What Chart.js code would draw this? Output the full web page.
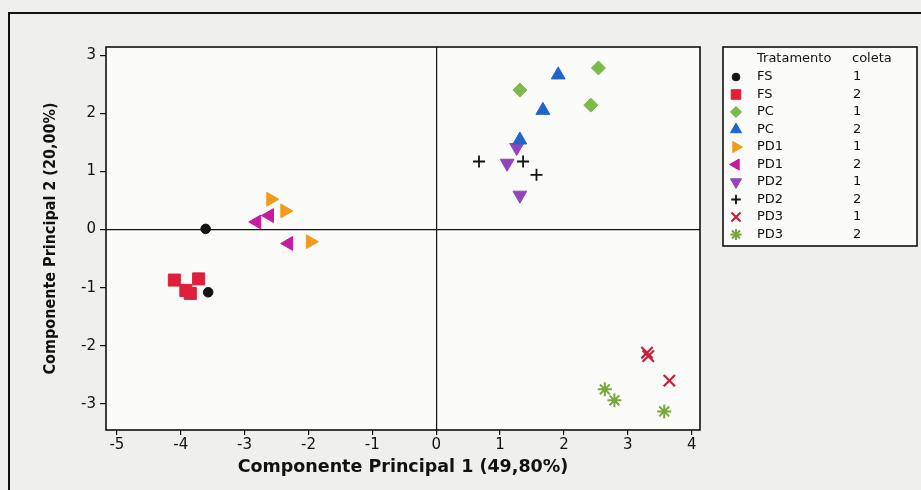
<!DOCTYPE html>
<html>
<head>
<meta charset="utf-8">
<script src="https://cdn.jsdelivr.net/npm/chart.js@4.4.1/dist/chart.umd.min.js"></script>
<style>
  body { margin: 0; background: #efefeb; }
  canvas { display: block; }
</style>
</head>
<body>
<canvas id="pcaChart" width="921" height="490"></canvas>
<script>
// scores: [componente 1, componente 2]
const fs1 = [[-3.61, 0.01], [-3.57, -1.08]];
const fs2 = [[-4.10, -0.87], [-3.72, -0.85], [-3.92, -1.05], [-3.85, -1.10]];
const pc1 = [[2.54, 2.78], [1.31, 2.40], [2.42, 2.14]];
const pc2 = [[1.91, 2.66], [1.67, 2.05], [1.31, 1.54]];
const pd1c1 = [[-2.59, 0.52], [-2.37, 0.32], [-1.97, -0.21]];
const pd1c2 = [[-2.61, 0.24], [-2.81, 0.13], [-2.31, -0.24]];
const pd2c1 = [[1.26, 1.41], [1.11, 1.14], [1.31, 0.59]];
const pd2c2 = [[0.67, 1.17], [1.36, 1.17], [1.57, 0.94]];
const pd3c1 = [[3.30, -2.12], [3.32, -2.18], [3.65, -2.60]];
const pd3c2 = [[2.64, -2.75], [2.79, -2.94], [3.57, -3.13]];

const tratamentos = ['FS', 'FS', 'PC', 'PC', 'PD1', 'PD1', 'PD2', 'PD2', 'PD3', 'PD3'];
const coletas = ['1', '2', '1', '2', '1', '2', '1', '2', '1', '2'];
const xTicks = [-5, -4, -3, -2, -1, 0, 1, 2, 3, 4];
const yTicks = [-3, -2, -1, 0, 1, 2, 3];

const seriesData = [fs1, fs2, pc1, pc2, pd1c1, pd1c2, pd2c1, pd2c2, pd3c1, pd3c2];
const markers = [
  { color: '#141414', style: 'circle', rotation: 0, radius: 4.8, width: 1 },
  { color: '#df1f3c', style: 'rect', rotation: 0, radius: 8.5, width: 1 },
  { color: '#7cba4c', style: 'rectRot', rotation: 0, radius: 7, width: 1 },
  { color: '#1f66c9', style: 'triangle', rotation: 0, radius: 8, width: 1 },
  { color: '#f39a1c', style: 'triangle', rotation: 90, radius: 8, width: 1 },
  { color: '#c81a9e', style: 'triangle', rotation: 270, radius: 8, width: 1 },
  { color: '#9444ba', style: 'triangle', rotation: 180, radius: 8, width: 1 },
  { color: '#141414', style: 'cross', rotation: 0, radius: 6, width: 1.8 },
  { color: '#c8203c', style: 'crossRot', rotation: 0, radius: 8, width: 2.2 },
  { color: '#78a83a', style: 'star', rotation: 0, radius: 7, width: 2 },
];

const datasets = seriesData.map((pts, i) => ({
  label: tratamentos[i] + ' ' + coletas[i],
  data: pts.map(p => ({ x: p[0], y: p[1] })),
  pointStyle: markers[i].style,
  rotation: markers[i].rotation,
  pointRadius: markers[i].radius,
  pointHoverRadius: markers[i].radius,
  borderWidth: markers[i].width,
  backgroundColor: markers[i].color,
  borderColor: markers[i].color,
}));

const frame = {
  id: 'frame',
  beforeDraw(chart) {
    const { ctx, chartArea: a } = chart;
    ctx.save();
    ctx.fillStyle = '#efefeb';
    ctx.fillRect(0, 0, chart.width, chart.height);
    ctx.strokeStyle = '#111';
    ctx.lineWidth = 2;
    ctx.beginPath();
    ctx.moveTo(9, chart.height);
    ctx.lineTo(9, 13);
    ctx.lineTo(chart.width, 13);
    ctx.stroke();
    ctx.fillStyle = '#fbfbfa';
    ctx.fillRect(a.left, a.top, a.right - a.left, a.bottom - a.top);
    ctx.restore();
  },
  afterDatasetsDraw(chart) {
    const { ctx, chartArea: a } = chart;
    ctx.save();
    ctx.strokeStyle = '#111';
    ctx.lineWidth = 1.6;
    ctx.strokeRect(a.left, a.top, a.right - a.left, a.bottom - a.top);
    ctx.restore();
  },
  afterDraw(chart) {
    const { ctx } = chart;
    const box = { left: 723, top: 47, right: 917, bottom: 246 };
    ctx.save();
    ctx.fillStyle = '#fbfbfa';
    ctx.fillRect(box.left, box.top, box.right - box.left, box.bottom - box.top);
    ctx.strokeStyle = '#111';
    ctx.lineWidth = 1.6;
    ctx.strokeRect(box.left, box.top, box.right - box.left, box.bottom - box.top);
    ctx.font = '13px "DejaVu Sans"';
    ctx.textBaseline = 'middle';
    ctx.fillStyle = '#111';
    ctx.fillText('Tratamento', 757, 59);
    ctx.fillText('coleta', 852, 59);
    chart.data.datasets.forEach((ds, i) => {
      const y = 77 + i * 17.5;
      ctx.fillStyle = ds.backgroundColor;
      ctx.strokeStyle = ds.borderColor;
      ctx.lineWidth = ds.borderWidth;
      Chart.helpers.drawPoint(ctx, {
        pointStyle: ds.pointStyle,
        rotation: ds.rotation,
        radius: ds.pointRadius * 0.8,
        borderWidth: ds.borderWidth,
      }, 736, y);
      ctx.fillStyle = '#111';
      ctx.fillText(tratamentos[i], 757, y);
      ctx.fillText(coletas[i], 853, y);
    });
    ctx.restore();
  },
};

const zeroLine = ctx => (ctx.tick && ctx.tick.value === 0 ? '#111' : 'rgba(0,0,0,0)');

new Chart(document.getElementById('pcaChart').getContext('2d'), {
  type: 'scatter',
  data: { datasets },
  options: {
    responsive: false,
    animation: false,
    layout: { padding: { left: 0, top: 47, right: 221, bottom: 0 } },
    plugins: { legend: { display: false }, tooltip: { enabled: false } },
    scales: {
      x: {
        type: 'linear',
        min: -5.17,
        max: 4.13,
        afterFit: scale => { scale.height = 60; },
        afterBuildTicks: scale => { scale.ticks = xTicks.map(v => ({ value: v })); },
        border: { display: false },
        grid: { color: zeroLine, lineWidth: 1.2, tickColor: '#111', tickLength: 5 },
        ticks: {
          color: '#111',
          padding: 1,
          maxRotation: 0,
          font: { family: 'DejaVu Sans', size: 15 },
          callback: v => String(v),
        },
        title: {
          display: true,
          text: 'Componente Principal 1 (49,80%)',
          color: '#111',
          padding: { top: 0, bottom: 12 },
          font: { family: 'DejaVu Sans', size: 17.5, weight: 'bold' },
        },
      },
      y: {
        type: 'linear',
        min: -3.45,
        max: 3.14,
        afterFit: scale => { scale.width = 106; },
        afterBuildTicks: scale => { scale.ticks = yTicks.map(v => ({ value: v })); },
        border: { display: false },
        grid: { color: zeroLine, lineWidth: 1.2, tickColor: '#111', tickLength: 6 },
        ticks: {
          color: '#111',
          padding: 4,
          font: { family: 'DejaVu Sans', size: 15 },
          callback: v => String(v),
        },
        title: {
          display: true,
          text: 'Componente Principal 2 (20,00%)',
          color: '#111',
          padding: { top: 41, bottom: 0 },
          font: { family: 'DejaVu Sans Condensed', size: 16, weight: 'bold' },
        },
      },
    },
  },
  plugins: [frame],
});
</script>
</body>
</html>
